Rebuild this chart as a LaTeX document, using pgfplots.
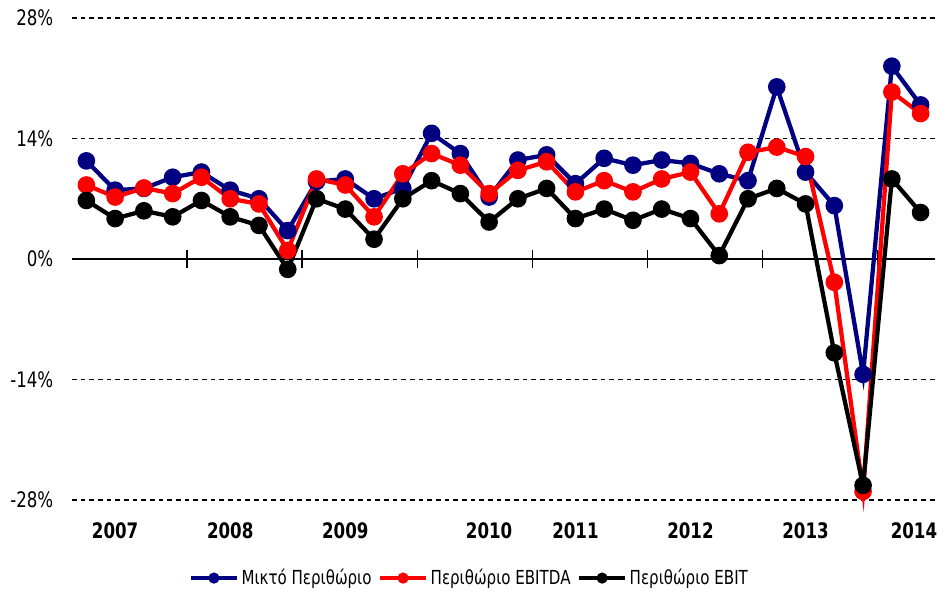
\documentclass[border=0pt]{standalone}
\usepackage{pgfplots}
\pgfplotsset{compat=1.18}
\usepackage{fontspec}
\setmainfont{DejaVu Sans}[FakeStretch=0.78]

\definecolor{navyc}{RGB}{0,0,128}

\begin{document}
\begin{tikzpicture}
\useasboundingbox (-54pt,-67.5pt) rectangle (650.25pt,375pt);
\begin{axis}[
  scale only axis, width=647.25pt, height=361.5pt,
  xmin=-0.5, xmax=29.5, ymin=-28, ymax=28,
  clip=false,
  axis x line=middle, axis y line=left,
  x axis line style={-, line width=1.3pt},
  y axis line style={draw=none},
  xtick={-0.5,3.5,...,27.5}, xticklabels={},
  x tick style={black, line width=1pt},
  tick align=center, major tick length=13pt,
  ytick={-28,-14,0,14,28},
  y tick style={draw=none},
  yticklabel={\pgfmathprintnumber{\tick}\%},
  /pgf/number format/assume math mode=true,
  yticklabel style={font=\fontsize{16}{18}\selectfont, xshift=-4pt},
  ymajorgrids,
  major grid style={black, line width=1pt, dash pattern=on 3.5pt off 3pt},
  legend columns=3,
  legend cell align=left,
  legend style={draw=none, fill=none, at={(0.461,-0.162)}, anchor=center,
    font=\fontsize{14.5}{16}\selectfont,
    /tikz/every even column/.append style={column sep=3pt}},
  legend image code/.code={
    \draw[#1, mark size=2.5pt, mark repeat=2, mark phase=2]
      plot coordinates {(0cm,0cm) (0.6cm,0cm) (1.2cm,0cm)};},
]
% Μικτό Περιθώριο
\addplot[navyc, line width=3.2pt, mark=*, mark size=5pt] coordinates {
  (0,11.4) (1,8.0) (2,8.2) (3,9.5) (4,10.1) (5,8.0) (6,7.0) (7,3.3)
  (8,9.0) (9,9.3) (10,7.0) (11,8.2) (12,14.6) (13,12.25) (14,7.2) (15,11.5)
  (16,12.1) (17,8.75) (18,11.7) (19,10.9) (20,11.5) (21,11.1) (22,9.9) (23,9.1)
  (24,20.0) (25,10.1) (26,6.2) (27,-13.4) (28,22.4) (29,17.9)};
\addlegendentry{Μικτό Περιθώριο}
% Περιθώριο EBITDA
\addplot[red, line width=3.2pt, mark=*, mark size=5pt] coordinates {
  (0,8.6) (1,7.2) (2,8.25) (3,7.6) (4,9.5) (5,7.0) (6,6.4) (7,1.0)
  (8,9.3) (9,8.6) (10,4.9) (11,9.9) (12,12.25) (13,10.9) (14,7.6) (15,10.3)
  (16,11.3) (17,7.8) (18,9.1) (19,7.8) (20,9.3) (21,10.1) (22,5.25) (23,12.4)
  (24,13.0) (25,11.9) (26,-2.7) (27,-27.0) (28,19.4) (29,16.9)};
\addlegendentry{Περιθώριο EBITDA}
% Περιθώριο EBIT
\addplot[black, line width=3.2pt, mark=*, mark size=5pt] coordinates {
  (0,6.8) (1,4.7) (2,5.6) (3,4.9) (4,6.8) (5,4.9) (6,3.9) (7,-1.2)
  (8,7.0) (9,5.8) (10,2.3) (11,7.0) (12,9.1) (13,7.6) (14,4.3) (15,7.0)
  (16,8.2) (17,4.7) (18,5.8) (19,4.5) (20,5.8) (21,4.7) (22,0.4) (23,7.0)
  (24,8.2) (25,6.4) (26,-10.9) (27,-26.3) (28,9.3) (29,5.4)};
\addlegendentry{Περιθώριο EBIT}

\begin{scope}[every node/.style={font=\bfseries\fontsize{16}{18}\selectfont, yshift=-23pt}]
\node at (axis cs:1,-28) {2007};
\node at (axis cs:5,-28) {2008};
\node at (axis cs:9,-28) {2009};
\node at (axis cs:14,-28) {2010};
\node at (axis cs:17,-28) {2011};
\node at (axis cs:21,-28) {2012};
\node at (axis cs:25,-28) {2013};
\node[xshift=-5pt] at (axis cs:29,-28) {2014};
\end{scope}
\end{axis}
\end{tikzpicture}
\end{document}
